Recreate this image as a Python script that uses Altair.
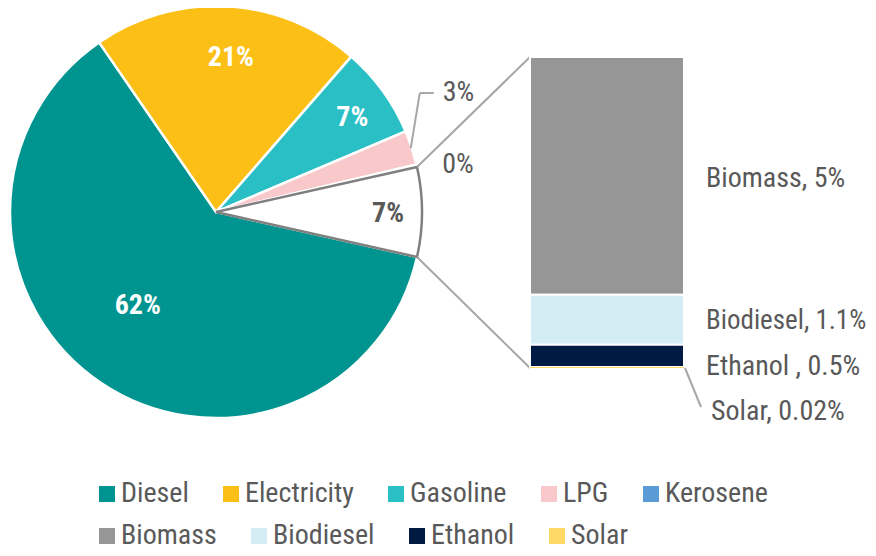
import math
import altair as alt
import pandas as pd

# ---------------- data ----------------
pie_cats = ["Diesel", "Electricity", "Gasoline", "LPG", "Kerosene", "Other"]
pie_vals = [61.9, 21.0, 7.2, 2.7, 0.2, 7.0]
pie_labels = ["62%", "21%", "7%", "3%", "0%", "7%"]

bar_cats = ["Biomass", "Biodiesel", "Ethanol", "Solar"]
bar_vals = [5.0, 1.05, 0.47, 0.02]
bar_labels = ["Biomass, 5%", "Biodiesel, 1.1%", "Ethanol , 0.5%", "Solar, 0.02%"]

row1_cats = ["Diesel", "Electricity", "Gasoline", "LPG", "Kerosene"]
row1_colors = ["#009490", "#FBBF16", "#2ABFC4", "#F9C8CA", "#5B9BD5"]
row2_cats = ["Biomass", "Biodiesel", "Ethanol", "Solar"]
row2_colors = ["#969696", "#D4ECF3", "#001A43", "#FFD966"]

# ---------------- layout ----------------
W, H = 860, 540
FONT = "Roboto Condensed, Roboto, sans-serif"
TXT = "#595959"
CX, CY, R = 208, 204, 206
BAR_X0, BAR_X1, BAR_TOP, BAR_BOT = 522, 676, 49, 360
FS = 28
LEG_X, LEG_Y, LEG_ROW = 85, 472, 42

pie_df = pd.DataFrame({"cat": pie_cats, "value": pie_vals, "label": pie_labels,
                       "idx": list(range(len(pie_cats)))})
bar_df = pd.DataFrame({"cat": bar_cats, "value": bar_vals, "label": bar_labels,
                       "idx": list(range(len(bar_cats)))})

total = sum(pie_vals)
other_share = pie_vals[pie_cats.index("Other")] / total
# "Other" slice centred on 3 o'clock, last slice clockwise
A0 = math.radians(90) + other_share * math.pi
theta_scale = alt.Scale(domain=[0, total], range=[A0, A0 + 2 * math.pi])


def legend(y):
    return alt.Legend(
        title=None, orient="none", legendX=LEG_X, legendY=y, direction="horizontal",
        symbolType="square", symbolSize=256, symbolStrokeWidth=0,
        labelFont=FONT, labelFontSize=FS, labelColor=TXT,
        columnPadding=28, labelOffset=0, padding=0,
    )


is_other = "datum.cat === 'Other'"

arcs = alt.Chart(pie_df).mark_arc(x=CX, y=CY, outerRadius=R, strokeWidth=2.5).encode(
    theta=alt.Theta("value:Q", stack=True, scale=theta_scale),
    order=alt.Order("idx:Q"),
    color=alt.when(is_other).then(alt.value("white")).otherwise(
        alt.Color("cat:N", scale=alt.Scale(domain=row1_cats, range=row1_colors),
                  legend=legend(LEG_Y))),
    stroke=alt.when(is_other).then(alt.value("#7F7F7F")).otherwise(alt.value("white")),
)


def pie_base():
    return (alt.Chart(pie_df)
            .transform_window(cum="sum(value)", sort=[alt.SortField("idx")], frame=[None, 0])
            .transform_calculate(mid="datum.cum - datum.value / 2"))


layers = [arcs]

# labels inside the pie: radius, colour, dx, dy
inside = {"Diesel": (122, "white", -10, -7), "Electricity": (156, "white", 6, 2),
          "Gasoline": (166, "white", 2, 4), "Other": (172, TXT, 0, 2)}
for c, (rad, col, ddx, ddy) in inside.items():
    layers.append(
        pie_base().transform_filter(f"datum.cat === '{c}'")
        .mark_text(x=CX, y=CY, radius=rad, dx=ddx, dy=ddy, font=FONT, fontSize=FS,
                   fontWeight="bold", color=col, align="center", baseline="middle")
        .encode(theta=alt.Theta("mid:Q", scale=theta_scale), text="label:N"))


def cum_before(name):
    i = pie_cats.index(name)
    return sum(pie_vals[:i])


def ang(v):
    return A0 + v / total * 2 * math.pi


def pt(a, r):
    return CX + r * math.sin(a), CY - r * math.cos(a)


def rule(x1, y1, x2, y2, color="#A6A6A6", w=2):
    return alt.Chart(pd.DataFrame({"k": [0]})).mark_rule(color=color, strokeWidth=w).encode(
        x=alt.value(x1), y=alt.value(y1), x2=alt.value(x2), y2=alt.value(y2))


# LPG leader + label
lpg_mid = ang(cum_before("LPG") + pie_vals[pie_cats.index("LPG")] / 2)
sx, sy = pt(lpg_mid, R - 1)
ex, ey = sx + 9, sy - 55
layers.append(rule(sx, sy, ex, ey))
layers.append(rule(ex, ey, ex + 14, ey))
layers.append(
    pie_base().transform_filter("datum.cat === 'LPG'")
    .mark_text(x=ex + 23, y=ey, font=FONT, fontSize=FS, color=TXT, align="left", baseline="middle")
    .encode(text="label:N"))

# Kerosene label
ker_mid = ang(cum_before("Kerosene") + pie_vals[pie_cats.index("Kerosene")] / 2)
kx, ky = pt(ker_mid, R + 20)
layers.append(
    pie_base().transform_filter("datum.cat === 'Kerosene'")
    .mark_text(x=kx + 6, y=ky + 4, font=FONT, fontSize=FS, color=TXT, align="left", baseline="middle")
    .encode(text="label:N"))

# connectors from the Other slice to the bar
o_start = ang(cum_before("Other"))
o_end = ang(total)
tx, ty = pt(o_start, R)
bx, by = pt(o_end, R)
layers.append(rule(tx, ty, BAR_X0, BAR_TOP))
layers.append(rule(bx, by, BAR_X0, BAR_BOT))

# stacked bar
bar_total = sum(bar_vals)
y_scale = alt.Scale(domain=[0, bar_total], range=[BAR_BOT, BAR_TOP], nice=False, zero=False)


def bar_base():
    return (alt.Chart(bar_df)
            .transform_window(y1="sum(value)", sort=[alt.SortField("idx", order="descending")],
                              frame=[None, 0])
            .transform_calculate(y0="datum.y1 - datum.value", ymid="datum.y1 - datum.value / 2"))


bars = bar_base().mark_bar(strokeWidth=2).encode(
    x=alt.value(BAR_X0), x2=alt.value(BAR_X1),
    y=alt.Y("y0:Q", scale=y_scale, axis=None), y2="y1:Q",
    fill=alt.Fill("cat:N", scale=alt.Scale(domain=row2_cats, range=row2_colors),
                  legend=legend(LEG_Y + LEG_ROW)),
    stroke=alt.when("datum.cat === 'Solar'").then(alt.value(None)).otherwise(alt.value("white")),
)
layers.append(bars)

# Solar leader
layers.append(rule(BAR_X1 + 1, BAR_BOT, BAR_X1 + 17, BAR_BOT + 39))

# label: x, dy, font size
bar_label_pos = {"Biomass": (698, 3, FS), "Biodiesel": (698, 1, FS - 1),
                 "Ethanol": (698, 11, FS), "Solar": (703, 44, FS)}
for c, (lx, ddy, fs) in bar_label_pos.items():
    layers.append(
        bar_base().transform_filter(f"datum.cat === '{c}'")
        .mark_text(x=lx, dy=ddy, font=FONT, fontSize=fs, color=TXT, align="left", baseline="middle")
        .encode(y=alt.Y("ymid:Q", scale=y_scale, axis=None), text="label:N"))

chart = alt.layer(*layers).properties(
    width=W, height=H, autosize=alt.AutoSizeParams(type="none"), padding=0,
).configure_view(stroke=None)

chart.save("out.html", embed_options={"renderer": "svg", "actions": False})
